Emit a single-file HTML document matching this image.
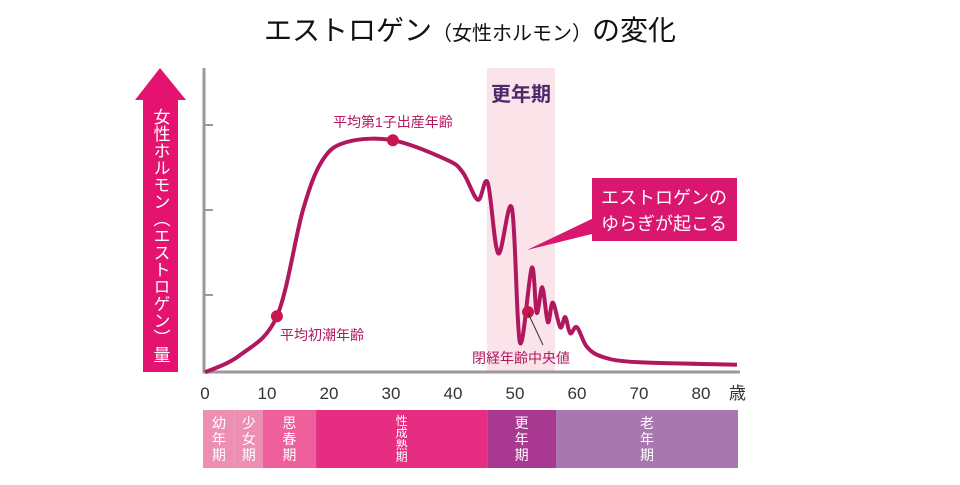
<!DOCTYPE html>
<html><head><meta charset="utf-8"><style>
body{margin:0;background:#fff;width:960px;height:480px;overflow:hidden;font-family:"Liberation Sans","Noto Sans CJK JP",sans-serif}
svg text{font-family:"Liberation Sans","Noto Sans CJK JP",sans-serif}
</style></head><body>
<svg id="c" width="960" height="480" viewBox="0 0 960 480">
<text x="470" y="40" text-anchor="middle" fill="#111"><tspan font-size="28">エストロゲン</tspan><tspan font-size="20">（女性ホルモン）</tspan><tspan font-size="28">の変化</tspan></text>
<rect x="487" y="68" width="68" height="304" fill="#fbe3ea"/>
<text x="521" y="101" text-anchor="middle" font-size="20" font-weight="bold" fill="#4a2a6a">更年期</text>
<polygon points="160,68 186,100 178,100 178,372 143,372 143,100 135,100" fill="#e4136f"/>
<text x="160" y="108" font-size="17" fill="#fff" writing-mode="tb" glyph-orientation-vertical="0">女性ホルモン（エストロゲン）量</text>
<line x1="204" y1="68" x2="204" y2="373" stroke="#9a9a9a" stroke-width="3"/>
<line x1="203" y1="372" x2="740" y2="372" stroke="#9a9a9a" stroke-width="3"/>
<g id="ticks"></g>
<g id="xlabels"></g>
<path id="curve" fill="none" stroke="#b0175f" stroke-width="4" stroke-linejoin="round"/>
<g id="dots"></g>
<text x="333" y="127" font-size="14" fill="#b0185f">平均第1子出産年齢</text>
<text x="280" y="340" font-size="14" fill="#b0185f">平均初潮年齢</text>
<line x1="528" y1="313" x2="543" y2="345" stroke="#333" stroke-width="1"/>
<text x="472" y="363" font-size="14" fill="#b0185f">閉経年齢中央値</text>
<polygon points="600,215 527,250 600,232" fill="#d9176f"/>
<rect x="592" y="178" width="145" height="63" fill="#d9176f"/>
<text x="664" y="204" text-anchor="middle" font-size="18" fill="#fff">エストロゲンの</text>
<text x="664" y="230" text-anchor="middle" font-size="18" fill="#fff">ゆらぎが起こる</text>
<g id="stages"></g>
</svg>
<script>
const ages=[0,5.6,11.6,15.8,19,22.9,30.3,39,41.6,44,45.6,47.3,49.5,50.8,52.7,53.5,54.4,55.3,56.1,57.3,58.1,58.9,60,61.6,64.2,69.7,85.8];
const levels=[0.09,0.29,0.75,2.0,2.59,2.8,2.82,2.59,2.44,2.12,2.32,1.49,2.02,0.44,1.32,0.79,1.09,0.68,0.91,0.62,0.74,0.55,0.62,0.39,0.27,0.21,0.18];
const markerAges=[11.6,30.3,52.1];
const markerLevels=[0.75,2.82,0.8];
const xTicks=[0,10,20,30,40,50,60,70,80];
const yTicks=[1,2,3];
const stageNames=["幼年期","少女期","思春期","性成熟期","更年期","老年期"];
const stageStart=[0,5.3,9.8,18.4,46,57.1];
const stageEnd=[5.3,9.8,18.4,46,57.1,86.5];
const stageColors=["#ec8fb2","#ec8fb2","#ee5f9b","#e52d82","#a83890","#a877b0"];
const X=a=>205+6.2*a, Y=v=>380-85*v;
const NS="http://www.w3.org/2000/svg";
function mk(t,p,at){const e=document.createElementNS(NS,t);for(const k in at)e.setAttribute(k,at[k]);p.appendChild(e);return e;}
const P=ages.map((a,i)=>[Math.max(203,X(a)),Y(levels[i])]);
let d=`M${P[0][0]},${P[0][1]}`;
for(let i=0;i<P.length-1;i++){const p0=P[Math.max(0,i-1)],p1=P[i],p2=P[i+1],p3=P[Math.min(P.length-1,i+2)];
d+=` C${p1[0]+(p2[0]-p0[0])/6},${p1[1]+(p2[1]-p0[1])/6} ${p2[0]-(p3[0]-p1[0])/6},${p2[1]-(p3[1]-p1[1])/6} ${p2[0]},${p2[1]}`;}
document.getElementById('curve').setAttribute('d',d);
const tg=document.getElementById('ticks');
yTicks.forEach(v=>{const l=mk('line',tg,{x1:204,x2:213,y1:Y(v),y2:Y(v),stroke:'#9a9a9a','stroke-width':2});

});
const xg=document.getElementById('xlabels');
xTicks.forEach(a=>{const t=mk('text',xg,{x:X(a),y:399,'text-anchor':'middle','font-size':17,fill:'#333'});t.textContent=a;

});
const sai=mk('text',xg,{x:729,y:399,'font-size':17,fill:'#333'});sai.textContent='歳';


const dg=document.getElementById('dots');
markerAges.forEach((a,i)=>{const c=mk('circle',dg,{cx:X(a),cy:Y(markerLevels[i]),r:6,fill:'#c8164f'});

});
const sg=document.getElementById('stages');
const bx=a=>Math.min(738,Math.max(203,X(a)-3));
stageNames.forEach((n,i)=>{const x0=bx(stageStart[i]),x1=bx(stageEnd[i]);
const r=mk('rect',sg,{x:x0,y:410,width:x1-x0,height:58,fill:stageColors[i]});


const chars=[...n],four=chars.length>3,lh=four?12:16,fs=four?12:14,cx=(x0+x1)/2,y0=439-(chars.length-1)*lh/2+fs/2-2;
chars.forEach((ch,j)=>{const t=mk('text',sg,{x:cx,y:y0+j*lh,'text-anchor':'middle','font-size':fs,fill:'#fff'});t.textContent=ch;

});});
</script>
</body></html>
